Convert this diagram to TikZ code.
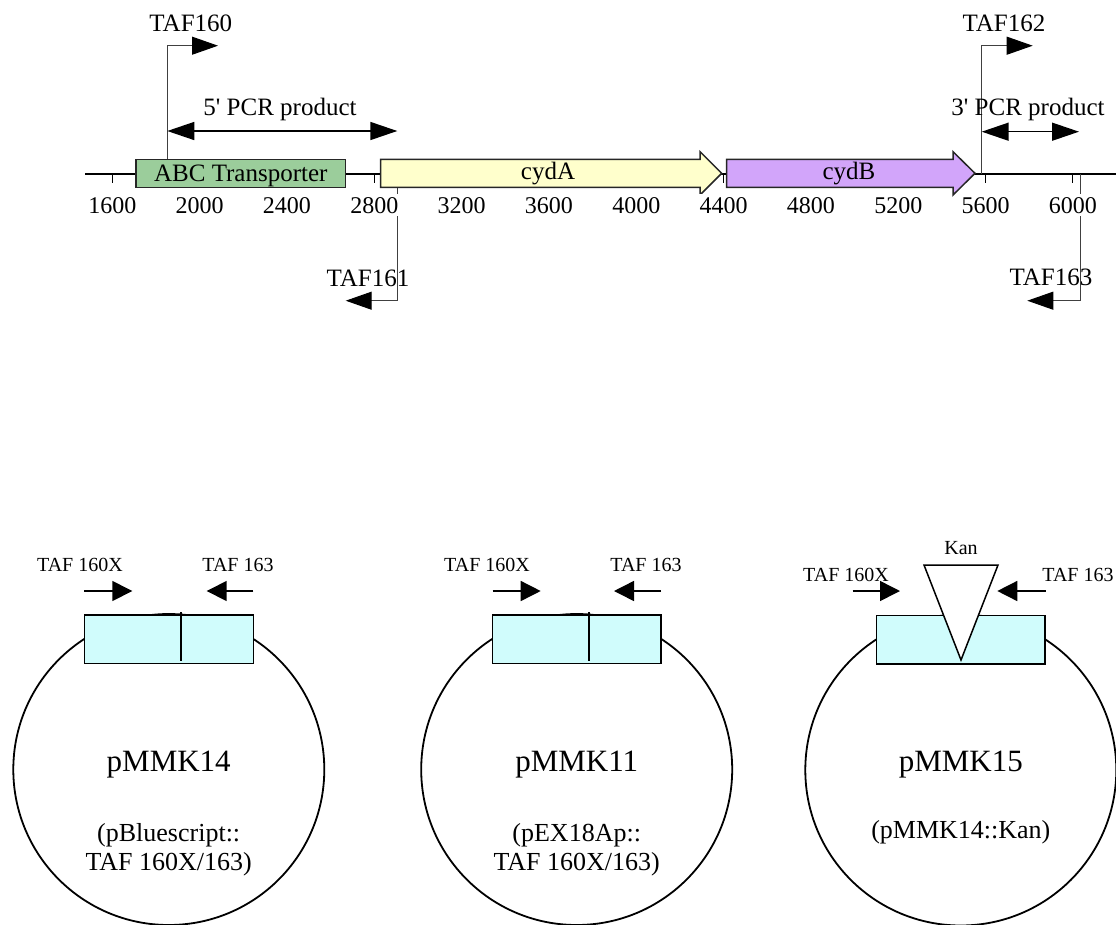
\documentclass[tikz,border=0pt]{standalone}
\usepackage{fontspec}
\setmainfont{Liberation Serif}
\usetikzlibrary{arrows.meta}
\definecolor{abcgreen}{RGB}{155,205,155}
\definecolor{cydayellow}{RGB}{255,255,204}
\definecolor{cydbpurple}{RGB}{210,165,250}
\definecolor{plcyan}{RGB}{208,252,252}
\begin{document}
\begin{tikzpicture}[x=1pt,y=-1pt,
  lbl/.style={inner sep=0pt, anchor=base, font=\fontsize{25}{30}\selectfont},
  ticklbl/.style={inner xsep=0.5pt, inner ysep=3pt, anchor=base, fill=white, font=\fontsize{24}{28}\selectfont},
  smalllbl/.style={inner sep=0pt, anchor=base, font=\fontsize{20}{24}\selectfont},
  titlelbl/.style={inner sep=0pt, anchor=base, font=\fontsize{31}{36}\selectfont},
  sublbl/.style={inner sep=0pt, anchor=base, font=\fontsize{26}{30}\selectfont},
  genebox/.style={draw=black!85, line width=1.5pt},
  primer/.style={draw=black!75, line width=1pt, -{Triangle[length=26pt,width=18pt,color=black]}},
  pcr/.style={draw=black, line width=1.5pt, {Triangle[length=27pt,width=18pt]}-{Triangle[length=27pt,width=18pt]}},
  smallarrow/.style={draw=black, line width=1.5pt, -{Triangle[length=20pt,width=20pt]}},
  plbox/.style={draw=black, line width=1.5pt, fill=plcyan},
  ring/.style={draw=black, line width=1.8pt}
]
\useasboundingbox (0,0) rectangle (1116,924);

% ---------------- top map ----------------
\coordinate (lineL) at (85,174);
\coordinate (lineR) at (1116,174);
\draw[line width=2pt] (lineL) -- (lineR);
\foreach \bp in {1600,2000,...,6000}
  \draw[line width=1pt] ({112.3+(\bp-1600)*0.21833},174) -- ++(0,9);

% primer lines
\coordinate (p160a) at (167.7,159.3);
\coordinate (p160b) at (167.7,45.7);
\coordinate (p160c) at (218,45.7);
\draw[primer] (p160a) -- (p160b) -- (p160c);
\coordinate (p162a) at (981.7,174);
\coordinate (p162b) at (981.7,45.7);
\coordinate (p162c) at (1032.7,45.7);
\draw[primer] (p162a) -- (p162b) -- (p162c);
\coordinate (p161a) at (397.7,187.3);
\coordinate (p161b) at (397.7,300.7);
\coordinate (p161c) at (345.7,300.7);
\draw[primer] (p161a) -- (p161b) -- (p161c);
\coordinate (p163a) at (1080,174);
\coordinate (p163b) at (1080,300.7);
\coordinate (p163c) at (1027.3,300.7);
\draw[primer] (p163a) -- (p163b) -- (p163c);

% genes
\draw[genebox, fill=abcgreen] (136,159.3) rectangle (345.7,187.3);
\node[lbl] (abc) at (240.8,181) {ABC Transporter};
\draw[genebox, fill=cydayellow] (380.7,159.3) -- (700,159.3) -- (700,151.7) -- (721.7,173.3)
  -- (700,195) -- (700,187.3) -- (380.7,187.3) -- cycle;
\node[lbl] (cyda) at (548,179.5) {cydA};
\draw[genebox, fill=cydbpurple] (726.7,159.3) -- (953,159.3) -- (953,151.7) -- (975,173.3)
  -- (953,195) -- (953,187.3) -- (726.7,187.3) -- cycle;
\node[lbl] (cydb) at (849,179.5) {cydB};

% tick labels
\foreach \bp in {1600,2000,...,6000}
  \node[ticklbl] (tick\bp) at ({112.3+(\bp-1600)*0.21833},213) {\bp};

% primer labels
\node[lbl] (t160) at (190.8,31.7) {TAF160};
\node[lbl] (t162) at (1004,31.7) {TAF162};
\node[lbl] (t161) at (368,286) {TAF161};
\node[lbl] (t163) at (1051,285) {TAF163};

% PCR products
\coordinate (pcr5a) at (167.3,131);
\coordinate (pcr5b) at (397.3,131);
\draw[pcr] (pcr5a) -- (pcr5b);
\node[lbl] (pcr5) at (280,115) {5\textquotesingle{} PCR product};
\coordinate (pcr3a) at (981.7,131.7);
\coordinate (pcr3b) at (1079,131.7);
\draw[pcr] (pcr3a) -- (pcr3b);
\node[lbl] (pcr3) at (1028,115) {3\textquotesingle{} PCR product};

% ---------------- plasmids ----------------
% pMMK14
\draw[ring] (168.8,769.5) circle[radius=155.5];
\draw[plbox] (84.3,615) rectangle (253.3,663.3);
\draw[line width=1.8pt] (180.7,612.3) -- (180.7,660.7);
\coordinate (a1a) at (84.3,591);  \coordinate (a1b) at (132.3,591);
\coordinate (a1c) at (253.3,591); \coordinate (a1d) at (206.7,591);
\draw[smallarrow] (a1a) -- (a1b);
\draw[smallarrow] (a1c) -- (a1d);
\node[smalllbl] (l1a) at (80,571) {TAF 160X};
\node[smalllbl] (l1b) at (238,571) {TAF 163};
\node[titlelbl] (n14) at (168.7,771.7) {pMMK14};
\node[sublbl] (s14a) at (168.7,841.7) {(pBluescript::};
\node[sublbl] (s14b) at (168.7,870) {TAF 160X/163)};

% pMMK11
\draw[ring] (576.7,769.5) circle[radius=155.5];
\draw[plbox] (492.7,615) rectangle (661,663.3);
\draw[line width=1.8pt] (589.3,612.3) -- (589.3,660.7);
\coordinate (a2a) at (492.7,591); \coordinate (a2b) at (540.7,591);
\coordinate (a2c) at (661,591);   \coordinate (a2d) at (614,591);
\draw[smallarrow] (a2a) -- (a2b);
\draw[smallarrow] (a2c) -- (a2d);
\node[smalllbl] (l2a) at (487,571) {TAF 160X};
\node[smalllbl] (l2b) at (646,571) {TAF 163};
\node[titlelbl] (n11) at (576.7,771.7) {pMMK11};
\node[sublbl] (s11a) at (576.7,841.7) {(pEX18Ap::};
\node[sublbl] (s11b) at (576.7,870) {TAF 160X/163)};

% pMMK15
\draw[ring] (960.8,770) circle[radius=155.5];
\draw[plbox] (876.7,615.7) rectangle (1045,664);
\draw[line width=1.5pt, fill=white] (924,565) -- (998,565) -- (961,660) -- cycle;
\coordinate (a3a) at (852.7,591);  \coordinate (a3b) at (900,591);
\coordinate (a3c) at (1045.7,591); \coordinate (a3d) at (997.3,591);
\draw[smallarrow] (a3a) -- (a3b);
\draw[smallarrow] (a3c) -- (a3d);
\node[smalllbl] (l3a) at (846,581) {TAF 160X};
\node[smalllbl] (l3b) at (1078,581) {TAF 163};
\node[smalllbl] (kan) at (961,554) {Kan};
\node[titlelbl] (n15) at (960.8,771.7) {pMMK15};
\node[sublbl] (s15a) at (960.8,838) {(pMMK14::Kan)};
\end{tikzpicture}
\end{document}
